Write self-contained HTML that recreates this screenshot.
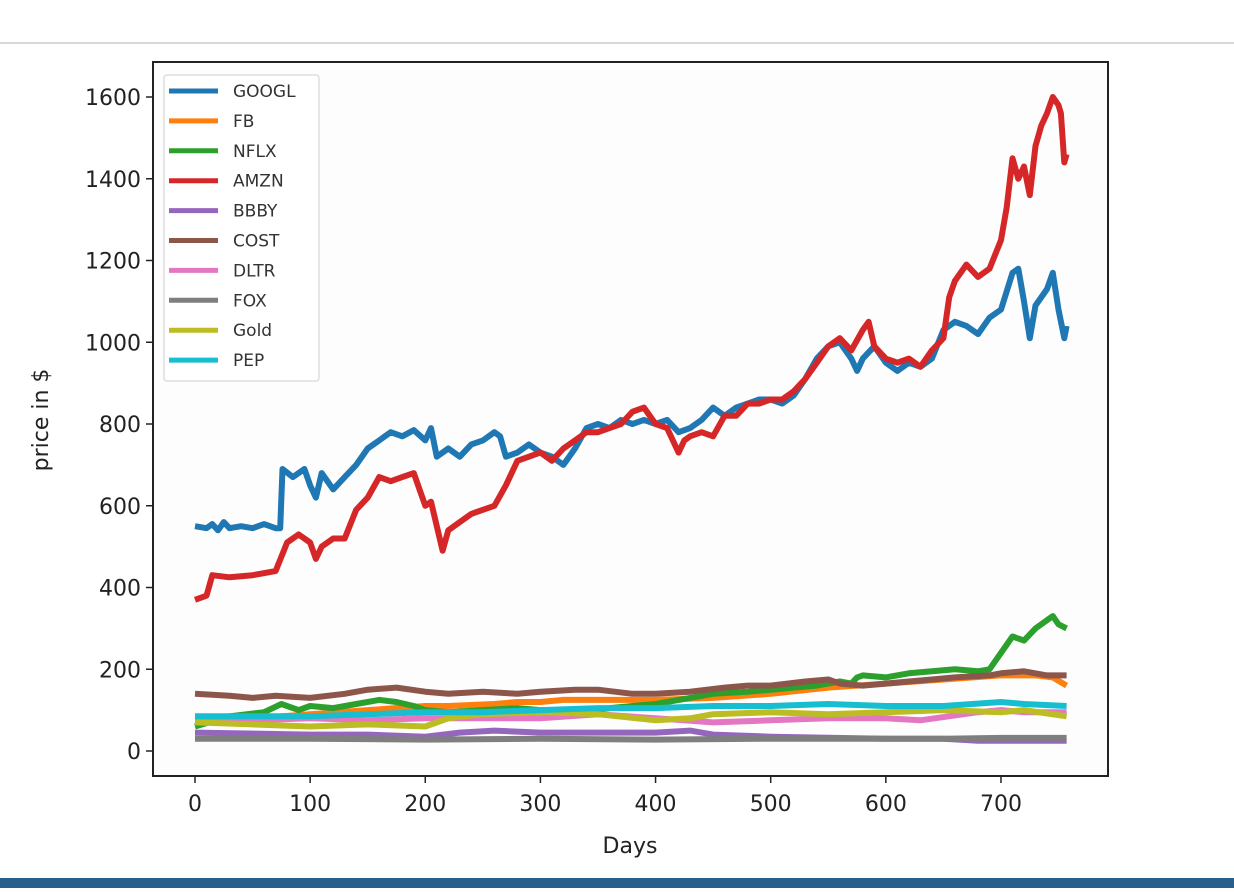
<!DOCTYPE html>
<html><head><meta charset="utf-8"><style>
body{margin:0;width:1234px;height:888px;background:#fff;overflow:hidden;font-family:"DejaVu Sans","Liberation Sans",sans-serif}
</style></head><body>
<svg id="chart" width="1234" height="888">
<line x1="0" y1="43" x2="1234" y2="43" stroke="#ccc" stroke-width="1.5"/>
<rect x="0" y="878" width="1234" height="10" fill="#2a5f8c"/>
<rect x="153" y="62" width="955" height="714" fill="#fdfdfd" stroke="#222" stroke-width="2"/>
<g id="marks"></g><g id="axes"></g><g id="legend"></g>
</svg>
<script>
const names=["GOOGL","FB","NFLX","AMZN","BBBY","COST","DLTR","FOX","Gold","PEP"];
const colors=["#1f77b4","#ff7f0e","#2ca02c","#d62728","#9467bd","#8c564b","#e377c2","#7f7f7f","#bcbd22","#17becf"];
const xTicks=[0,100,200,300,400,500,600,700];
const yTicks=[0,200,400,600,800,1000,1200,1400,1600];
const GOOGL=[[0,550],[10,545],[15,555],[20,540],[25,560],[30,545],[40,550],[50,545],[60,555],[70,545],[74,545],[76,690],[85,670],[95,690],[100,650],[105,620],[110,680],[120,640],[130,670],[140,700],[150,740],[160,760],[170,780],[180,770],[190,785],[200,760],[205,790],[210,720],[220,740],[230,720],[240,750],[250,760],[260,780],[265,770],[270,720],[280,730],[290,750],[300,730],[310,720],[320,700],[330,740],[340,790],[350,800],[360,790],[370,810],[380,800],[390,810],[400,800],[410,810],[420,780],[430,790],[440,810],[450,840],[460,820],[470,840],[480,850],[490,860],[500,860],[510,850],[520,870],[530,910],[540,960],[550,990],[560,1000],[570,960],[575,930],[580,960],[590,990],[600,950],[610,930],[620,950],[630,940],[640,960],[650,1030],[660,1050],[670,1040],[680,1020],[690,1060],[700,1080],[710,1170],[715,1180],[720,1100],[725,1010],[730,1090],[740,1130],[745,1170],[750,1080],[755,1010],[757,1040]];
const FB=[[0,75],[50,80],[100,90],[150,100],[200,110],[220,110],[260,115],[280,120],[300,120],[320,125],[350,125],[400,125],[450,130],[500,140],[550,155],[600,165],[650,175],[700,185],[730,185],[745,180],[757,160]];
const NFLX=[[0,60],[30,85],[60,95],[75,115],[90,100],[100,110],[120,105],[140,115],[160,125],[175,120],[190,110],[200,100],[220,95],[250,100],[280,105],[300,100],[330,95],[360,105],[380,110],[400,115],[430,130],[450,140],[480,145],[500,150],[520,155],[540,160],[560,170],[570,165],[575,180],[580,185],[600,180],[620,190],[640,195],[660,200],[680,195],[690,200],[700,240],[710,280],[720,270],[730,300],[740,320],[745,330],[750,310],[757,300]];
const AMZN=[[0,370],[10,380],[15,430],[30,425],[50,430],[70,440],[80,510],[90,530],[100,510],[105,470],[110,500],[120,520],[130,520],[140,590],[150,620],[160,670],[170,660],[180,670],[190,680],[195,640],[200,600],[205,610],[210,550],[215,490],[220,540],[230,560],[240,580],[250,590],[260,600],[270,650],[280,710],[290,720],[300,730],[310,710],[320,740],[330,760],[340,780],[350,780],[360,790],[370,800],[380,830],[390,840],[400,800],[410,790],[420,730],[425,760],[430,770],[440,780],[450,770],[460,820],[470,820],[480,850],[490,850],[500,860],[510,860],[520,880],[530,910],[540,950],[550,990],[560,1010],[570,980],[580,1030],[585,1050],[590,990],[600,960],[610,950],[620,960],[630,940],[640,980],[650,1010],[655,1110],[660,1150],[670,1190],[680,1160],[690,1180],[700,1250],[705,1330],[710,1450],[715,1400],[720,1430],[725,1360],[730,1480],[735,1530],[740,1560],[745,1600],[750,1580],[752,1560],[755,1440],[757,1460]];
const BBBY=[[0,45],[100,40],[150,40],[200,35],[230,45],[260,50],[300,45],[400,45],[430,50],[450,40],[500,35],[600,30],[650,30],[680,25],[700,25],[757,25]];
const COST=[[0,140],[30,135],[50,130],[70,135],[100,130],[130,140],[150,150],[175,155],[200,145],[220,140],[250,145],[280,140],[300,145],[330,150],[350,150],[380,140],[400,140],[430,145],[460,155],[480,160],[500,160],[530,170],[550,175],[560,165],[580,160],[600,165],[620,170],[640,175],[660,180],[690,185],[700,190],[720,195],[740,185],[757,185]];
const DLTR=[[0,75],[50,75],[100,80],[150,75],[200,80],[250,80],[300,80],[350,90],[400,80],[450,70],[500,75],[550,80],[600,80],[630,75],[680,95],[700,100],[720,95],[757,95]];
const FOX=[[0,30],[100,30],[200,28],[300,30],[400,28],[500,30],[600,30],[650,30],[700,32],[757,32]];
const Gold=[[0,70],[50,65],[100,60],[150,65],[200,60],[220,80],[250,90],[300,95],[350,90],[400,75],[430,80],[450,90],[500,95],[550,90],[600,95],[650,100],[700,95],[720,100],[757,85]];
const PEP=[[0,85],[50,85],[100,85],[150,90],[200,95],[250,95],[300,100],[350,105],[400,105],[450,110],[500,110],[550,115],[600,110],[650,110],[700,120],[720,115],[757,110]];
const series=[GOOGL,FB,NFLX,AMZN,BBBY,COST,DLTR,FOX,Gold,PEP];
const NS="http://www.w3.org/2000/svg";
const xs=d=>195+d*1.1514;
const ys=v=>751-v*0.40875;
function mk(tag,attrs,parent){const e=document.createElementNS(NS,tag);for(const k in attrs)e.setAttribute(k,attrs[k]);parent.appendChild(e);return e;}
const marks=document.getElementById('marks'),axes=document.getElementById('axes'),leg=document.getElementById('legend');
series.forEach((s,i)=>{
  const p=mk('polyline',{points:s.map(q=>xs(q[0]).toFixed(1)+','+ys(q[1]).toFixed(1)).join(' '),fill:'none',stroke:colors[i],'stroke-width':6,'stroke-linejoin':'round'},marks);
  
  
});
xTicks.forEach(t=>{
  const l=mk('line',{x1:xs(t),x2:xs(t),y1:776,y2:783,stroke:'#222','stroke-width':1.5},axes);
  
  
  const tx=mk('text',{x:xs(t),y:811,'text-anchor':'middle','font-size':22,fill:'#222'},axes);
  tx.textContent=t;
  
  
});
yTicks.forEach(t=>{
  const l=mk('line',{x1:146,x2:153,y1:ys(t),y2:ys(t),stroke:'#222','stroke-width':1.5},axes);
  
  
  const tx=mk('text',{x:141,y:ys(t)+8,'text-anchor':'end','font-size':22,fill:'#222'},axes);
  tx.textContent=t;
  
  
});
const xl=mk('text',{x:630,y:853,'text-anchor':'middle','font-size':22,fill:'#222'},axes);
xl.textContent='Days';


const yl=mk('text',{x:0,y:0,'text-anchor':'middle','font-size':22,fill:'#222',transform:'translate(48,420) rotate(-90)'},axes);
yl.textContent='price in $';


const box=mk('rect',{x:164,y:75,width:155,height:306,rx:3,fill:'#fff',stroke:'#ddd','stroke-width':1.5},leg);


names.forEach((n,i)=>{
  const y=91+i*29.9;
  const l=mk('line',{x1:169,x2:218,y1:y,y2:y,stroke:colors[i],'stroke-width':5},leg);
  
  
  const t=mk('text',{x:233,y:y+6,'font-size':17,fill:'#333'},leg);
  t.textContent=n;
  
  
});
</script>
</body></html>
